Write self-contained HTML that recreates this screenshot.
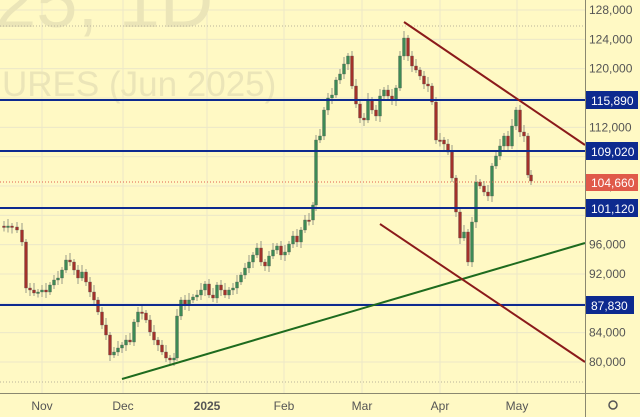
<!DOCTYPE html>
<html><head><style>
html,body{margin:0;padding:0;background:#fff9c4;}
svg{display:block;font-family:"Liberation Sans",sans-serif;}
</style></head><body>
<svg id="s" width="640" height="417" viewBox="0 0 640 417">
<rect width="640" height="417" fill="#fff9c4"/>
<g id="grid" stroke="#ece8c8" stroke-width="1"></g>
<text x="-46" y="27" font-size="74" fill="#ebe5b8">025, 1D</text>
<text x="2" y="96" font-size="35" fill="#ebe5b8">URES (Jun 2025)</text>
<line x1="0" y1="26" x2="585" y2="26" stroke="#b8b49a" stroke-dasharray="1,2"/>
<line x1="0" y1="382" x2="585" y2="382" stroke="#b8b49a" stroke-dasharray="1,2"/>
<g id="c"></g>
<line x1="0" y1="182" x2="585" y2="182" stroke="#e06050" stroke-dasharray="1,2"/>
<g stroke="#0d2a8f" stroke-width="2">
<line x1="0" y1="100" x2="585" y2="100"/><line x1="0" y1="151" x2="585" y2="151"/>
<line x1="0" y1="208" x2="585" y2="208"/><line x1="0" y1="305" x2="585" y2="305"/>
</g>
<line x1="122" y1="379" x2="585" y2="243" stroke="#1e6b1e" stroke-width="2"/>
<line x1="404" y1="22" x2="585" y2="145" stroke="#8b1a1a" stroke-width="2"/>
<line x1="380" y1="224" x2="585" y2="362" stroke="#8b1a1a" stroke-width="2"/>
<line x1="585.5" y1="0" x2="585.5" y2="417" stroke="#8a8870"/>
<line x1="0" y1="393.5" x2="640" y2="393.5" stroke="#8a8870"/>
<g id="yl" font-size="12" fill="#555"></g>
<g font-size="12" fill="#555" text-anchor="middle">
<text x="42" y="410">Nov</text><text x="123" y="410">Dec</text>
<text x="207" y="410" font-weight="bold">2025</text><text x="284" y="410">Feb</text>
<text x="362" y="410">Mar</text><text x="440" y="410">Apr</text><text x="517" y="410">May</text>
</g>
<g font-size="12" fill="#fff">
<rect x="586" y="91" width="52" height="18" fill="#0d2a8f"/><text x="591" y="105">115,890</text>
<rect x="586" y="142" width="52" height="18" fill="#0d2a8f"/><text x="591" y="156">109,020</text>
<rect x="586" y="174" width="52" height="17" fill="#e05a4a"/><text x="591" y="187">104,660</text>
<rect x="586" y="199" width="52" height="18" fill="#0d2a8f"/><text x="591" y="213">101,120</text>
<rect x="586" y="296" width="48" height="18" fill="#0d2a8f"/><text x="591" y="310">87,830</text>
</g>
<circle cx="613" cy="405" r="4" fill="none" stroke="#555" stroke-width="1.5"/>
</svg>
<script>
(function(){
var ns="http://www.w3.org/2000/svg";
function el(p,t,a){var e=document.createElementNS(ns,t);for(var k in a)e.setAttribute(k,a[k]);p.appendChild(e);return e;}
var g=document.getElementById('grid'),yl=document.getElementById('yl');
for(var p=80000;p<=128000;p+=4000){var y=10+(128000-p)*0.0073333;el(g,'line',{x1:0,y1:y,x2:585,y2:y});
if([108000,100000,88000,116000].indexOf(p)<0){var t=el(yl,'text',{x:589,y:y+4});t.textContent=(p/1000)+",000";}}
[42,123,207,284,362,440,517].forEach(function(x){el(g,'line',{x1:x,y1:0,x2:x,y2:393});});
var d=[[0,226],[4,227],[8,226],[12,227],[17,230],[22,242],[26,288],[30,290],[34,293],[38,292],[42,290],[46,292],[50,285],[54,280],[58,278],[62,270],[66,260],[70,262],[74,270],[78,278],[82,272],[86,282],[90,292],[94,300],[98,312],[102,325],[106,335],[110,355],[114,352],[118,348],[122,345],[126,340],[130,342],[134,322],[138,312],[142,313],[146,320],[150,332],[154,340],[158,345],[162,352],[166,358],[170,360],[174,358],[177,316],[181,300],[185,305],[189,300],[193,297],[197,295],[201,290],[205,284],[209,295],[213,298],[217,285],[221,290],[225,295],[229,290],[233,288],[237,282],[241,275],[245,268],[249,262],[253,255],[257,248],[261,262],[265,266],[269,256],[273,250],[277,246],[281,255],[285,252],[289,244],[293,236],[297,242],[301,230],[305,220],[309,220],[313,205],[316,140],[320,136],[324,110],[328,98],[332,95],[336,80],[340,74],[344,64],[348,56],[352,86],[356,104],[360,118],[364,120],[368,100],[372,110],[376,116],[380,96],[384,90],[388,96],[392,100],[396,88],[400,56],[404,38],[408,56],[412,66],[416,70],[420,76],[424,84],[428,86],[432,102],[436,140],[440,140],[444,144],[448,152],[452,178],[456,212],[460,238],[464,232],[468,262],[472,222],[476,182],[480,186],[484,192],[488,196],[492,166],[496,156],[500,146],[504,136],[508,146],[512,126],[516,110],[520,132],[524,136],[528,175],[531,181]];
var c=document.getElementById('c');
for(var i=1;i<d.length;i++){var x=d[i][0],o=d[i-1][1],cl=d[i][1];var up=cl<o;var col=up?'#3d8a55':'#a3312a';
var ty=Math.min(o,cl),by=Math.max(o,cl);if(by-ty<1.5)by=ty+1.5;
el(c,'line',{x1:x,y1:ty-3-(i%3)*2,x2:x,y2:by+3+(i%4),stroke:'#9a9a88','stroke-width':1});
el(c,'rect',{x:x-1.5,y:ty,width:3,height:by-ty,fill:col,stroke:'#555','stroke-width':0.3});}
})();
</script>
</body></html>
